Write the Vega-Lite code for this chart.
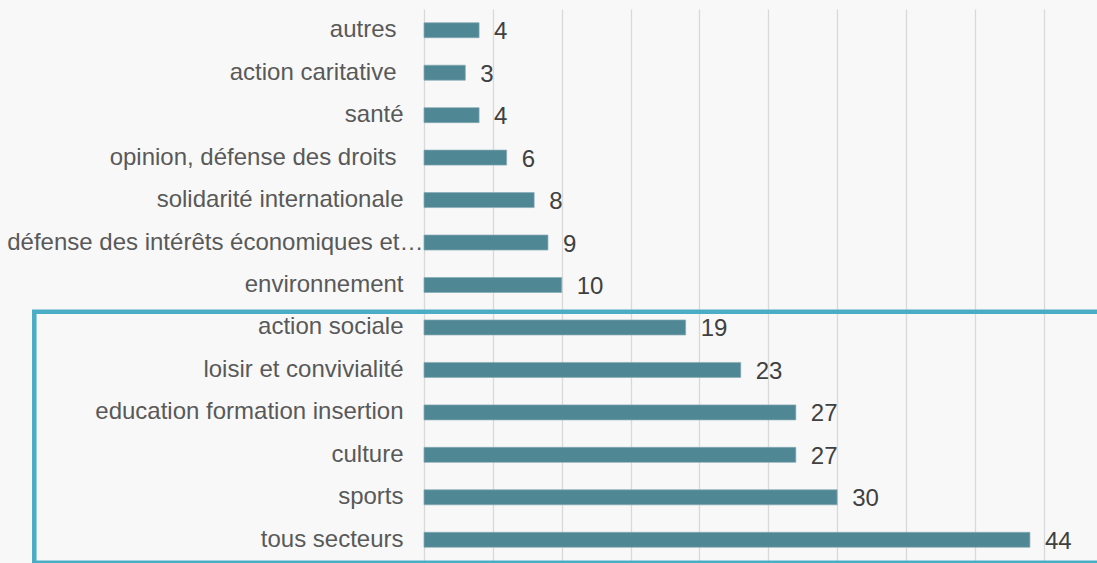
{
  "$schema": "https://vega.github.io/schema/vega-lite/v6.json",
  "width": 673,
  "height": 552,
  "autosize": {"type": "none"},
  "padding": {"left": 424, "top": 9, "right": 0, "bottom": 2},
  "background": "#F8F8F8",
  "config": {"view": {"stroke": null}, "font": "Liberation Sans"},
  "layer": [
    {
      "data": {
        "values": [
          {"secteur": "autres", "valeur": 4},
          {"secteur": "action caritative", "valeur": 3},
          {"secteur": "santé", "valeur": 4},
          {"secteur": "opinion, défense des droits", "valeur": 6},
          {"secteur": "solidarité internationale", "valeur": 8},
          {"secteur": "défense des intérêts économiques et…", "valeur": 9},
          {"secteur": "environnement", "valeur": 10},
          {"secteur": "action sociale", "valeur": 19},
          {"secteur": "loisir et convivialité", "valeur": 23},
          {"secteur": "education formation insertion", "valeur": 27},
          {"secteur": "culture", "valeur": 27},
          {"secteur": "sports", "valeur": 30},
          {"secteur": "tous secteurs", "valeur": 44}
        ]
      },
      "encoding": {
        "y": {
          "field": "secteur",
          "type": "nominal",
          "sort": null,
          "scale": {"paddingInner": 0, "paddingOuter": 0},
          "axis": {
            "title": null,
            "ticks": false,
            "domain": false,
            "grid": false,
            "labelFontSize": 24,
            "labelColor": "#595959",
            "labelLimit": 600,
            "labelPadding": {
              "condition": [
                {"test": "indexof(datum.value, '…') >= 0", "value": 1},
                {"test": "datum.value == 'autres' || datum.value == 'action caritative' || datum.value == 'opinion, défense des droits'", "value": 28}
              ],
              "value": 21
            }
          }
        },
        "x": {
          "field": "valeur",
          "type": "quantitative",
          "scale": {"domain": [0, 48.87], "nice": false, "zero": true},
          "axis": {
            "title": null,
            "values": [0, 5, 10, 15, 20, 25, 30, 35, 40, 45],
            "labels": false,
            "ticks": false,
            "domain": false,
            "grid": true,
            "gridColor": "#D9D9D9",
            "gridWidth": 1.3
          }
        }
      },
      "layer": [
        {"mark": {"type": "bar", "color": "#4F8794", "size": 15, "stroke": "#86AAB4", "strokeWidth": 0.7}},
        {
          "mark": {"type": "text", "align": "left", "baseline": "middle", "dx": 15, "dy": 2, "fontSize": 24, "color": "#404040"},
          "encoding": {"text": {"field": "valeur", "type": "quantitative"}}
        }
      ]
    },
    {
      "data": {"values": [{}]},
      "mark": {"type": "rect", "fill": null, "stroke": "#4BACC6", "strokeWidth": 4.5},
      "encoding": {
        "x": {"datum": -28.3, "type": "quantitative"},
        "x2": {"datum": 50},
        "y": {
          "datum": 7.13,
          "type": "quantitative",
          "scale": {"domain": [0, 13], "reverse": true, "nice": false, "zero": false},
          "axis": null
        },
        "y2": {"datum": 13.04}
      }
    }
  ],
  "resolve": {"scale": {"y": "independent"}}
}
